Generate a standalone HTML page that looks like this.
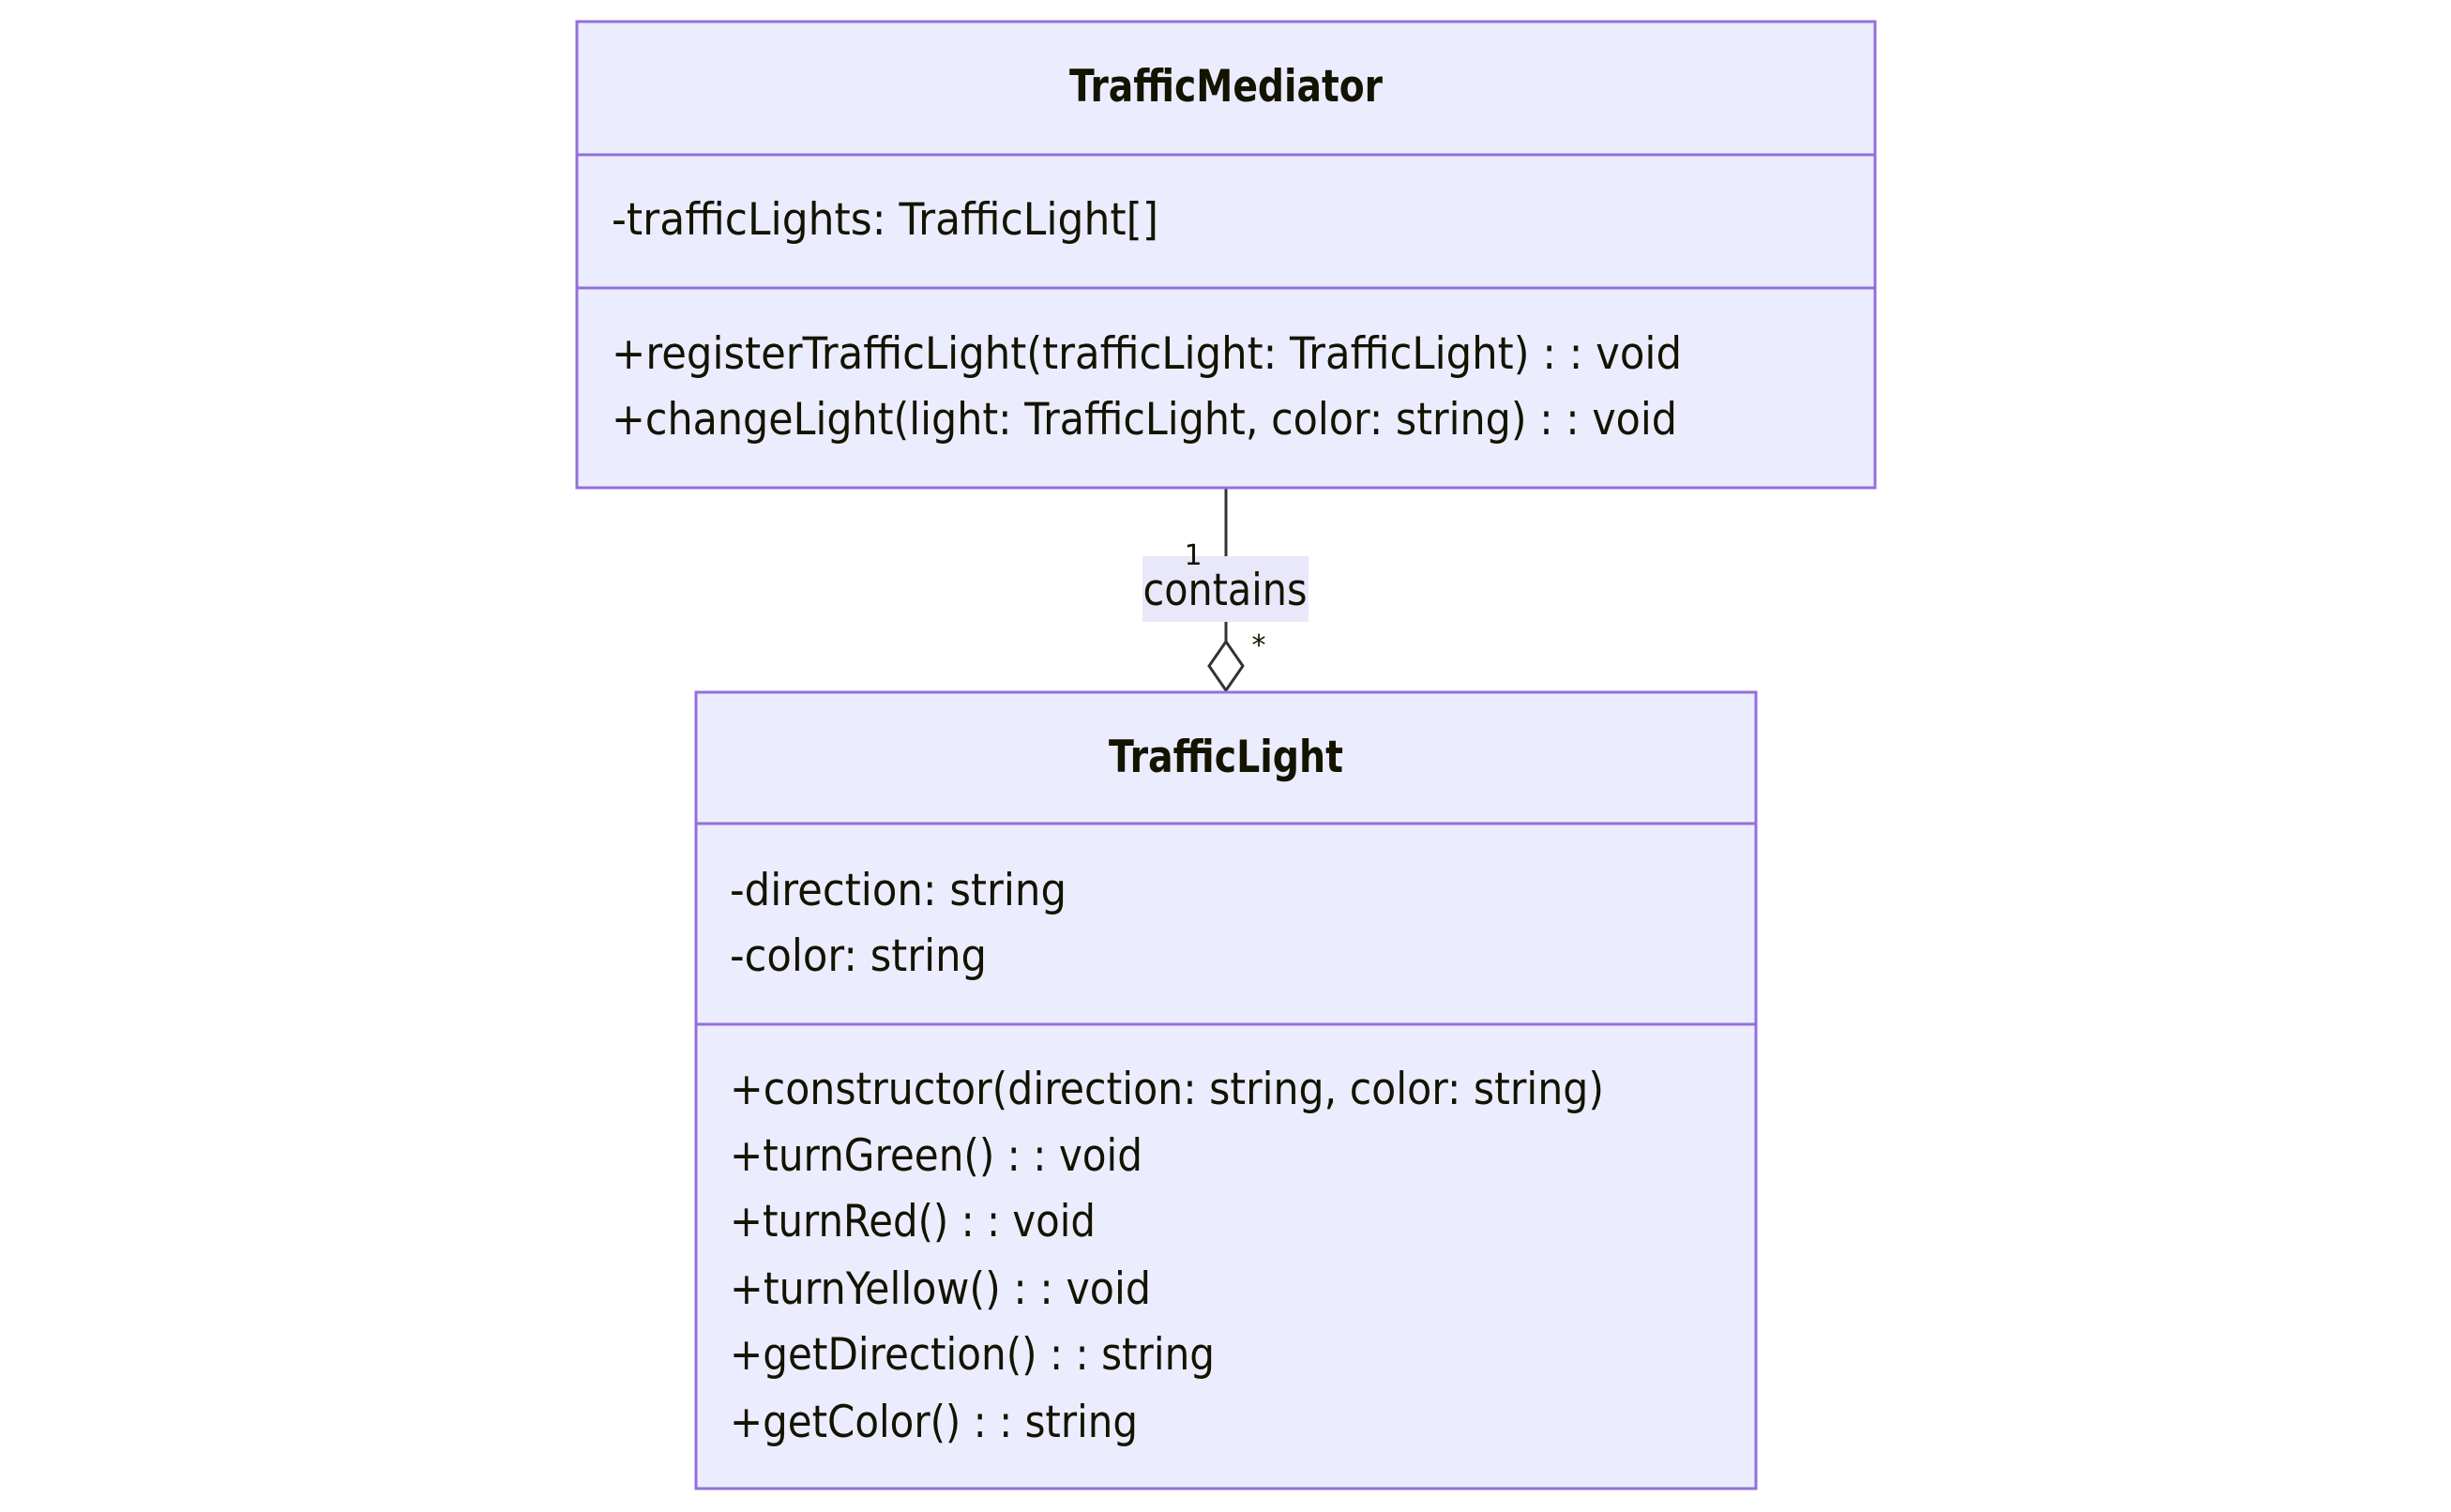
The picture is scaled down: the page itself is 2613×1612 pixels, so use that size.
<!DOCTYPE html>
<html><head><meta charset="utf-8"><style>
html,body{margin:0;padding:0;background:#fff;width:2613px;height:1612px;overflow:hidden}
text{font-family:"DejaVu Sans","Liberation Sans",sans-serif;fill:#131300}
</style></head><body>
<svg width="2613" height="1612" viewBox="0 0 2613 1612" xmlns="http://www.w3.org/2000/svg">
<line x1="1307" y1="520" x2="1307" y2="684" stroke="#333" stroke-width="3"/>
<rect x="1218" y="593" width="177" height="70" fill="#e8e8fa"/>
<polygon points="1307,684 1325,710 1307,736 1289,710" fill="#fff" stroke="#333" stroke-width="3"/>
<text x="1272" y="602" font-size="30" text-anchor="middle">1</text>
<text x="1306" y="645" font-size="47" text-anchor="middle" textLength="175" lengthAdjust="spacingAndGlyphs">contains</text>
<text x="1342" y="698" font-size="30" text-anchor="middle">*</text>

<rect x="615" y="23" width="1384" height="497" fill="#ECECFF" stroke="#9370DB" stroke-width="3"/>
<line x1="615" y1="165" x2="1999" y2="165" stroke="#9370DB" stroke-width="3"/>
<line x1="615" y1="307" x2="1999" y2="307" stroke="#9370DB" stroke-width="3"/>
<text x="1307" y="108" font-size="47" font-weight="bold" text-anchor="middle" textLength="334" lengthAdjust="spacingAndGlyphs">TrafficMediator</text>
<text x="652" y="250" font-size="47" textLength="583" lengthAdjust="spacingAndGlyphs">-trafficLights: TrafficLight[]</text>
<text x="652" y="393" font-size="47" textLength="1141" lengthAdjust="spacingAndGlyphs">+registerTrafficLight(trafficLight: TrafficLight) : : void</text>
<text x="652" y="463" font-size="47" textLength="1136" lengthAdjust="spacingAndGlyphs">+changeLight(light: TrafficLight, color: string) : : void</text>

<rect x="742" y="738" width="1130" height="849" fill="#ECECFF" stroke="#9370DB" stroke-width="3"/>
<line x1="742" y1="878" x2="1872" y2="878" stroke="#9370DB" stroke-width="3"/>
<line x1="742" y1="1092" x2="1872" y2="1092" stroke="#9370DB" stroke-width="3"/>
<text x="1307" y="823" font-size="47" font-weight="bold" text-anchor="middle" textLength="250" lengthAdjust="spacingAndGlyphs">TrafficLight</text>
<text x="778" y="965" font-size="47" textLength="359" lengthAdjust="spacingAndGlyphs">-direction: string</text>
<text x="778" y="1035" font-size="47" textLength="274" lengthAdjust="spacingAndGlyphs">-color: string</text>
<text x="778" y="1177" font-size="47" textLength="932" lengthAdjust="spacingAndGlyphs">+constructor(direction: string, color: string)</text>
<text x="778" y="1248" font-size="47" textLength="440" lengthAdjust="spacingAndGlyphs">+turnGreen() : : void</text>
<text x="778" y="1318" font-size="47" textLength="390" lengthAdjust="spacingAndGlyphs">+turnRed() : : void</text>
<text x="778" y="1390" font-size="47" textLength="449" lengthAdjust="spacingAndGlyphs">+turnYellow() : : void</text>
<text x="778" y="1460" font-size="47" textLength="517" lengthAdjust="spacingAndGlyphs">+getDirection() : : string</text>
<text x="778" y="1532" font-size="47" textLength="435" lengthAdjust="spacingAndGlyphs">+getColor() : : string</text>
</svg>
</body></html>
